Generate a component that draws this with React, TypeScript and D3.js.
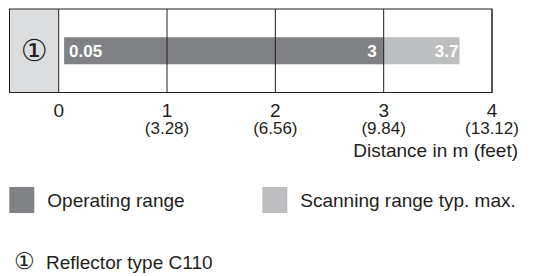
import * as d3 from 'd3';

// reflector rows (only one in this chart)
const rows = ['①'];
const operating = [[0.05, 3]];
const scanning = [[3, 3.7]];
const operatingLabels = [['0.05', '3']];
const scanningLabels = ['3.7'];

// axis ticks in metres, with feet below
const ticks = [0, 1, 2, 3, 4];
const feetLabels = ['', '(3.28)', '(6.56)', '(9.84)', '(13.12)'];

const legendItems = ['Operating range', 'Scanning range typ. max.'];
const axisTitle = 'Distance in m (feet)';
const footnoteMark = '①';
const footnote = 'Reflector type C110';

export default function App() {
  const width = 544;
  const height = 276;
  const font = '"Liberation Sans", Arial, sans-serif';
  const ink = '#231f20';
  const dark = '#808184';
  const light = '#bcbec0';
  const cell = '#dcdddf';

  const boxLeft = 9.5;
  const boxTop = 9;
  const boxBottom = 92.5;

  const x = d3.scaleLinear().domain([0, 4]).range([58.7, 492]);
  const y = d3.scaleBand().domain(rows).range([boxTop, boxBottom]);
  const barH = 27;

  return (
    <svg
      width={width}
      height={height}
      style={{ position: 'absolute', left: 0, top: 0, background: '#fff' }}
      fontFamily={font}
    >
      {/* label cell */}
      <rect x={boxLeft} y={boxTop} width={x(0) - boxLeft} height={boxBottom - boxTop} fill={cell} />

      {/* bars */}
      {rows.map((r, i) => {
        const cy = (y(r) ?? 0) + y.bandwidth() / 2;
        const [o0, o1] = operating[i];
        const [s0, s1] = scanning[i];
        return (
          <g key={r}>
            <text
              x={(boxLeft + x(0)) / 2}
              y={cy + 10}
              textAnchor="middle"
              fontSize={30}
              fontFamily='"DejaVu Sans", sans-serif'
              fill={ink}
            >
              {r}
            </text>
            <rect x={x(o0)} y={cy - barH / 2} width={x(o1) - x(o0)} height={barH} fill={dark} />
            <rect x={x(s0)} y={cy - barH / 2} width={x(s1) - x(s0)} height={barH} fill={light} />
            <text x={x(o0) + 5} y={cy + 6} fontSize={17} fontWeight="bold" fill="#fff">
              {operatingLabels[i][0]}
            </text>
            <text x={x(o1) - 7} y={cy + 6} fontSize={17} fontWeight="bold" fill="#fff" textAnchor="end">
              {operatingLabels[i][1]}
            </text>
            <text x={x(s1) - 1} y={cy + 6} fontSize={17} fontWeight="bold" fill="#fff" textAnchor="end">
              {scanningLabels[i]}
            </text>
          </g>
        );
      })}

      {/* grid lines */}
      {ticks.map((t) => (
        <line key={t} x1={x(t)} x2={x(t)} y1={boxTop} y2={boxBottom} stroke={ink} strokeWidth={1} />
      ))}
      <rect
        x={boxLeft}
        y={boxTop}
        width={x(4) - boxLeft}
        height={boxBottom - boxTop}
        fill="none"
        stroke={ink}
        strokeWidth={1}
      />

      {/* tick labels */}
      {ticks.map((t, i) => (
        <g key={t}>
          <text x={x(t)} y={117} textAnchor="middle" fontSize={19} fill={ink}>
            {t}
          </text>
          <text x={x(t)} y={134} textAnchor="middle" fontSize={17} fill={ink}>
            {feetLabels[i]}
          </text>
        </g>
      ))}
      <text x={518} y={157} textAnchor="end" fontSize={19} fill={ink}>
        {axisTitle}
      </text>

      {/* legend */}
      {legendItems.map((label, i) => {
        const lx = i === 0 ? 9.3 : 262.3;
        return (
          <g key={label}>
            <rect x={lx} y={187} width={25} height={26} fill={i === 0 ? dark : light} />
            <text x={lx + 38} y={207} fontSize={19} fill={ink}>
              {label}
            </text>
          </g>
        );
      })}

      <text x={14} y={269} fontSize={23} fontFamily='"DejaVu Sans", sans-serif' fill={ink}>
        {footnoteMark}
      </text>
      <text x={46} y={269} fontSize={19} fill={ink}>
        {footnote}
      </text>
    </svg>
  );
}
